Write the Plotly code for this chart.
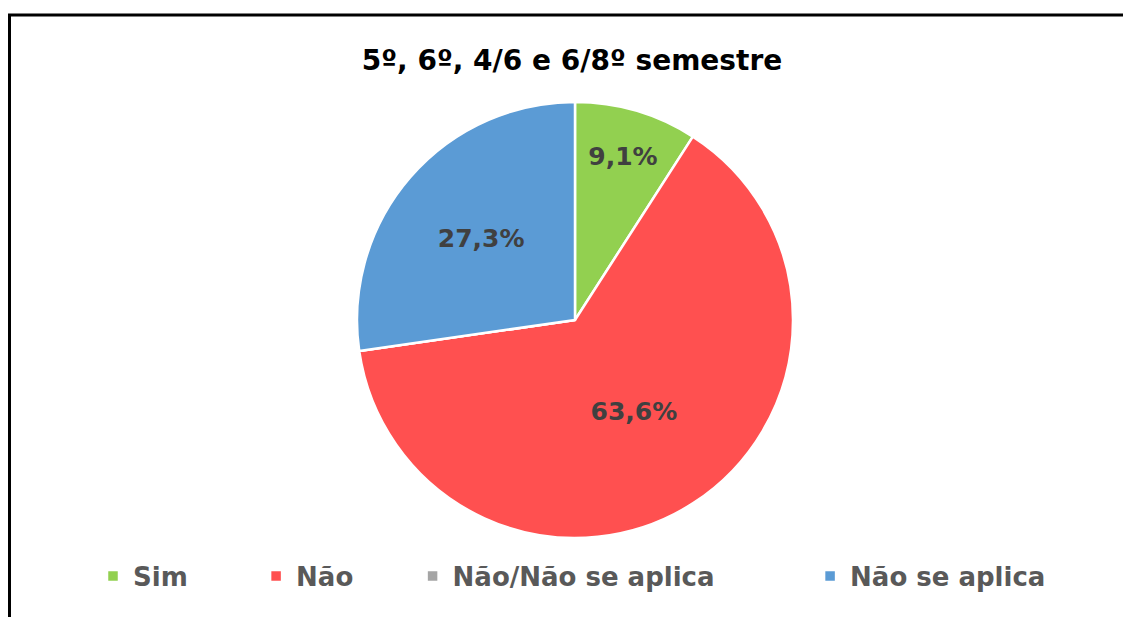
import plotly.graph_objects as go

categories = ["Sim", "Não", "Não/Não se aplica", "Não se aplica"]
values = [1, 7, 0, 3]
colors = ["#92d050", "#ff5050", "#a5a5a5", "#5b9bd5"]
title_text = "5º, 6º, 4/6 e 6/8º semestre"
# trailing no-break spaces only to reproduce the wide spacing between legend entries
legend_pad = [7, 6, 10, 0]

W, H = 1123, 617
total = sum(values)
labels_txt = [("" if v == 0 else f"{v / total * 100:.1f}%".replace(".", ",")) for v in values]
legend_labels = [c + "\u00a0" * p for c, p in zip(categories, legend_pad)]

cx, cy, r = 575, 320, 218
FONT = "DejaVu Sans"

fig = go.Figure(
    go.Pie(
        labels=legend_labels,
        values=values,
        text=labels_txt,
        textinfo="text",
        textposition="inside",
        insidetextorientation="horizontal",
        sort=False,
        direction="clockwise",
        rotation=0,
        marker=dict(colors=colors, line=dict(color="white", width=2.5)),
        textfont=dict(family=FONT, size=25, color="#404040", weight="bold"),
        domain=dict(x=[(cx - r) / W, (cx + r) / W], y=[1 - (cy + r) / H, 1 - (cy - r) / H]),
        hoverinfo="label+percent",
    )
)

fig.update_layout(
    width=W,
    height=H,
    margin=dict(l=0, r=0, t=0, b=0),
    paper_bgcolor="white",
    plot_bgcolor="white",
    title=dict(
        text=title_text,
        x=572 / W,
        xanchor="center",
        y=1 - 60 / H,
        yanchor="middle",
        font=dict(family=FONT, size=28, color="#000000", weight="bold"),
    ),
    legend=dict(
        orientation="h",
        x=93 / W,
        xanchor="left",
        y=1 - 576 / H,
        yanchor="middle",
        font=dict(family=FONT, size=26, color="#595959", weight="bold"),
        bgcolor="rgba(0,0,0,0)",
    ),
    shapes=[
        dict(type="line", xref="paper", yref="paper", x0=8 / W, x1=1.0,
             y0=1 - 15 / H, y1=1 - 15 / H, line=dict(color="#000000", width=3)),
        dict(type="line", xref="paper", yref="paper", x0=9.5 / W, x1=9.5 / W,
             y0=0, y1=1 - 14 / H, line=dict(color="#000000", width=3)),
    ],
)

fig.write_html(
    "out.html",
    config={"displayModeBar": False},
    post_script="document.body.style.margin='0';document.body.style.overflow='hidden';",
)
